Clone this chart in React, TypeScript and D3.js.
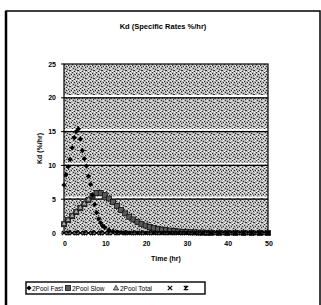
import React from "react";
import * as d3 from "d3";

const title = "Kd (Specific Rates %/hr)";
const xTitle = "Time (hr)";
const yTitle = "Kd (%/hr)";
const xTicks = [0, 10, 20, 30, 40, 50];
const yTicks = [0, 5, 10, 15, 20, 25];
const gridValues = [5, 10, 15, 20];

const fastTime = [0, 0.5, 1, 1.5, 2, 2.5, 3, 3.5, 4, 4.5, 5, 5.5, 6, 6.5, 7, 7.5, 8, 8.5, 9, 9.5, 10, 11, 12, 13, 14, 15, 16, 18, 20, 22, 24, 26, 28, 30, 32, 34, 36, 38, 40, 42, 44, 46, 48, 50];
const fastValues = [7.1, 8.6, 9.8, 10.9, 12.6, 14.1, 15.0, 15.4, 13.9, 12.2, 11.0, 9.9, 8.4, 7.2, 5.6, 4.2, 3.0, 2.1, 1.5, 1.05, 0.8, 0.45, 0.25, 0.14, 0.08, 0.05, 0.03, 0.01, 0, 0, 0, 0, 0, 0, 0, 0, 0, 0, 0, 0, 0, 0, 0, 0];

const slowTime = [0, 1, 2, 3, 4, 5, 6, 7, 8, 9, 10, 11, 12, 13, 14, 15, 16, 17, 18, 19, 20, 21, 22, 23, 24, 25, 26, 27, 28, 29, 30, 31, 32, 33, 34, 35, 36, 38, 40, 42, 44, 46, 48, 50];
const slowValues = [1.3, 1.9, 2.5, 3.1, 3.7, 4.3, 4.9, 5.5, 5.9, 5.9, 5.6, 5.1, 4.6, 4.0, 3.4, 2.9, 2.4, 2.0, 1.65, 1.35, 1.1, 0.9, 0.75, 0.6, 0.5, 0.42, 0.35, 0.28, 0.22, 0.18, 0.14, 0.11, 0.09, 0.07, 0.05, 0.04, 0.03, 0.02, 0.01, 0.01, 0, 0, 0, 0];

const totalTime = [0, 1, 2, 3, 4, 5, 6, 7];
const totalValues = [1.4, 2.0, 2.6, 3.2, 3.8, 4.4, 5.0, 5.6];

const s4Time = [0, 2, 4, 6, 8, 10, 12, 14, 16, 18, 20, 22, 24, 26, 28, 30, 32, 34, 36, 38, 40, 42, 44, 46, 48, 50];
const s4Values = [0, 0, 0, 0, 0, 0, 0, 0, 0, 0, 0, 0, 0, 0, 0, 0, 0, 0, 0, 0, 0, 0, 0, 0, 0, 0];
const s5Time = [1, 3, 5, 7, 9, 11, 13, 15, 17, 19, 21, 23, 25, 27, 29, 31, 33, 35, 37, 39, 41, 43, 45, 47, 49];
const s5Values = [0, 0, 0, 0, 0, 0, 0, 0, 0, 0, 0, 0, 0, 0, 0, 0, 0, 0, 0, 0, 0, 0, 0, 0, 0];

const legendNames = ["2Pool Fast", "2Pool Slow", "2Pool Total", "", ""];

const ditherDark: [number, number][] = [
  [0, 0], [4, 1], [2, 2], [5, 3], [1, 4], [3, 5], [6, 6], [2, 7], [7, 2], [5, 6]
];
const ditherWhite: [number, number][] = [
  [2, 0], [6, 0], [0, 2], [4, 3], [7, 4], [1, 6], [3, 1], [6, 5], [0, 7], [4, 7]
];

const FONT = "'Liberation Sans', Arial, sans-serif";

function Marker({ kind, x, y }: { kind: string; x: number; y: number }) {
  if (kind === "diamond") {
    return <path d={`M${x},${y - 2.6}L${x + 2.6},${y}L${x},${y + 2.6}L${x - 2.6},${y}Z`} fill="#000" />;
  }
  if (kind === "square") {
    return <rect x={x - 2.5} y={y - 2.5} width={5} height={5} fill="#5a5a5a" stroke="#111" strokeWidth={0.8} />;
  }
  if (kind === "triangle") {
    return <path d={`M${x},${y - 2.8}L${x + 2.6},${y + 2}L${x - 2.6},${y + 2}Z`} fill="#aaa" stroke="#111" strokeWidth={0.7} />;
  }
  if (kind === "x") {
    return <path d={`M${x - 2.2},${y - 2.2}L${x + 2.2},${y + 2.2}M${x + 2.2},${y - 2.2}L${x - 2.2},${y + 2.2}`} stroke="#000" strokeWidth={1.2} />;
  }
  return <path d={`M${x - 2.2},${y - 2.2}L${x + 2.2},${y + 2.2}M${x + 2.2},${y - 2.2}L${x - 2.2},${y + 2.2}M${x},${y - 2.5}L${x},${y + 2.5}`} stroke="#000" strokeWidth={1.2} />;
}

export default function App() {
  const x = d3.scaleLinear().domain([0, 50]).range([64, 268]);
  const y = d3.scaleLinear().domain([0, 25]).range([233, 64]);

  const series = [
    { kind: "square", t: slowTime, v: slowValues },
    { kind: "triangle", t: totalTime, v: totalValues },
    { kind: "x", t: s4Time, v: s4Values },
    { kind: "star", t: s5Time, v: s5Values },
    { kind: "diamond", t: fastTime, v: fastValues },
  ];

  const legendItems = [
    { kind: "diamond", name: legendNames[0], mx: 29, tx: 32 },
    { kind: "square", name: legendNames[1], mx: 68, tx: 72 },
    { kind: "triangle", name: legendNames[2], mx: 116, tx: 120 },
    { kind: "x", name: legendNames[3], mx: 170, tx: 174 },
    { kind: "star", name: legendNames[4], mx: 186, tx: 190 },
  ];

  return (
    <svg width={321} height={305} style={{ position: "absolute", left: 0, top: 0, background: "#fff" }}>
      <defs>
        <pattern id="dither" width={8} height={8} patternUnits="userSpaceOnUse">
          <rect width={8} height={8} fill="#b4b4b4" />
          {ditherDark.map(([px, py], i) => (
            <rect key={"d" + i} x={px} y={py} width={1} height={1} fill="#2a2a2a" />
          ))}
          {ditherWhite.map(([px, py], i) => (
            <rect key={"w" + i} x={px} y={py} width={1} height={1} fill="#f4f4f4" />
          ))}
        </pattern>
      </defs>
      {/* outer chart border */}
      <rect x={6} y={11} width={314} height={310} fill="none" stroke="#000" strokeWidth={1.5} />
      <line x1={6} y1={11} x2={6} y2={305} stroke="#000" strokeWidth={2.5} />
      <text x={163} y={29} textAnchor="middle" fontFamily={FONT} fontSize={7.5} fontWeight="bold">{title}</text>

      {/* plot area */}
      <rect x={x(0)} y={y(25)} width={x(50) - x(0)} height={y(0) - y(25)} fill="url(#dither)" />
      {gridValues.map((g) => (
        <g key={g}>
          <line x1={x(0)} x2={x(50)} y1={y(g) - 1.8} y2={y(g) - 1.8} stroke="#fff" strokeWidth={1.8} />
          <line x1={x(0)} x2={x(50)} y1={y(g)} y2={y(g)} stroke="#000" strokeWidth={1.3} />
        </g>
      ))}
      <rect x={x(0)} y={y(25)} width={x(50) - x(0)} height={y(0) - y(25)} fill="none" stroke="#000" strokeWidth={1.2} />

      {/* y axis */}
      {yTicks.map((t) => (
        <g key={t}>
          <line x1={x(0) - 3} x2={x(0)} y1={y(t)} y2={y(t)} stroke="#000" strokeWidth={1} />
          <text x={x(0) - 8} y={y(t) + 2.5} textAnchor="end" fontFamily={FONT} fontSize={7} fontWeight="bold">{t}</text>
        </g>
      ))}
      <text transform={`translate(42,${(y(0) + y(25)) / 2}) rotate(-90)`} textAnchor="middle" fontFamily={FONT} fontSize={7} fontWeight="bold">{yTitle}</text>

      {/* x axis */}
      {xTicks.map((t) => (
        <text key={t} x={x(t) + 1} y={246} textAnchor="middle" fontFamily={FONT} fontSize={7} fontWeight="bold">{t}</text>
      ))}
      <text x={166} y={261} textAnchor="middle" fontFamily={FONT} fontSize={7} fontWeight="bold">{xTitle}</text>

      {/* series */}
      {series.map((s, si) => (
        <g key={si}>
          {s.t.map((tv, i) => (
            <Marker key={i} kind={s.kind} x={x(tv)} y={y(s.v[i])} />
          ))}
        </g>
      ))}

      {/* legend */}
      <rect x={26} y={282} width={179} height={12} fill="#fff" stroke="#000" strokeWidth={1.4} />
      {legendItems.map((l, i) => (
        <g key={i}>
          <Marker kind={l.kind} x={l.mx} y={288} />
          {l.name && (
            <text x={l.tx} y={290.5} fontFamily={FONT} fontSize={6.5}>{l.name}</text>
          )}
        </g>
      ))}
    </svg>
  );
}
